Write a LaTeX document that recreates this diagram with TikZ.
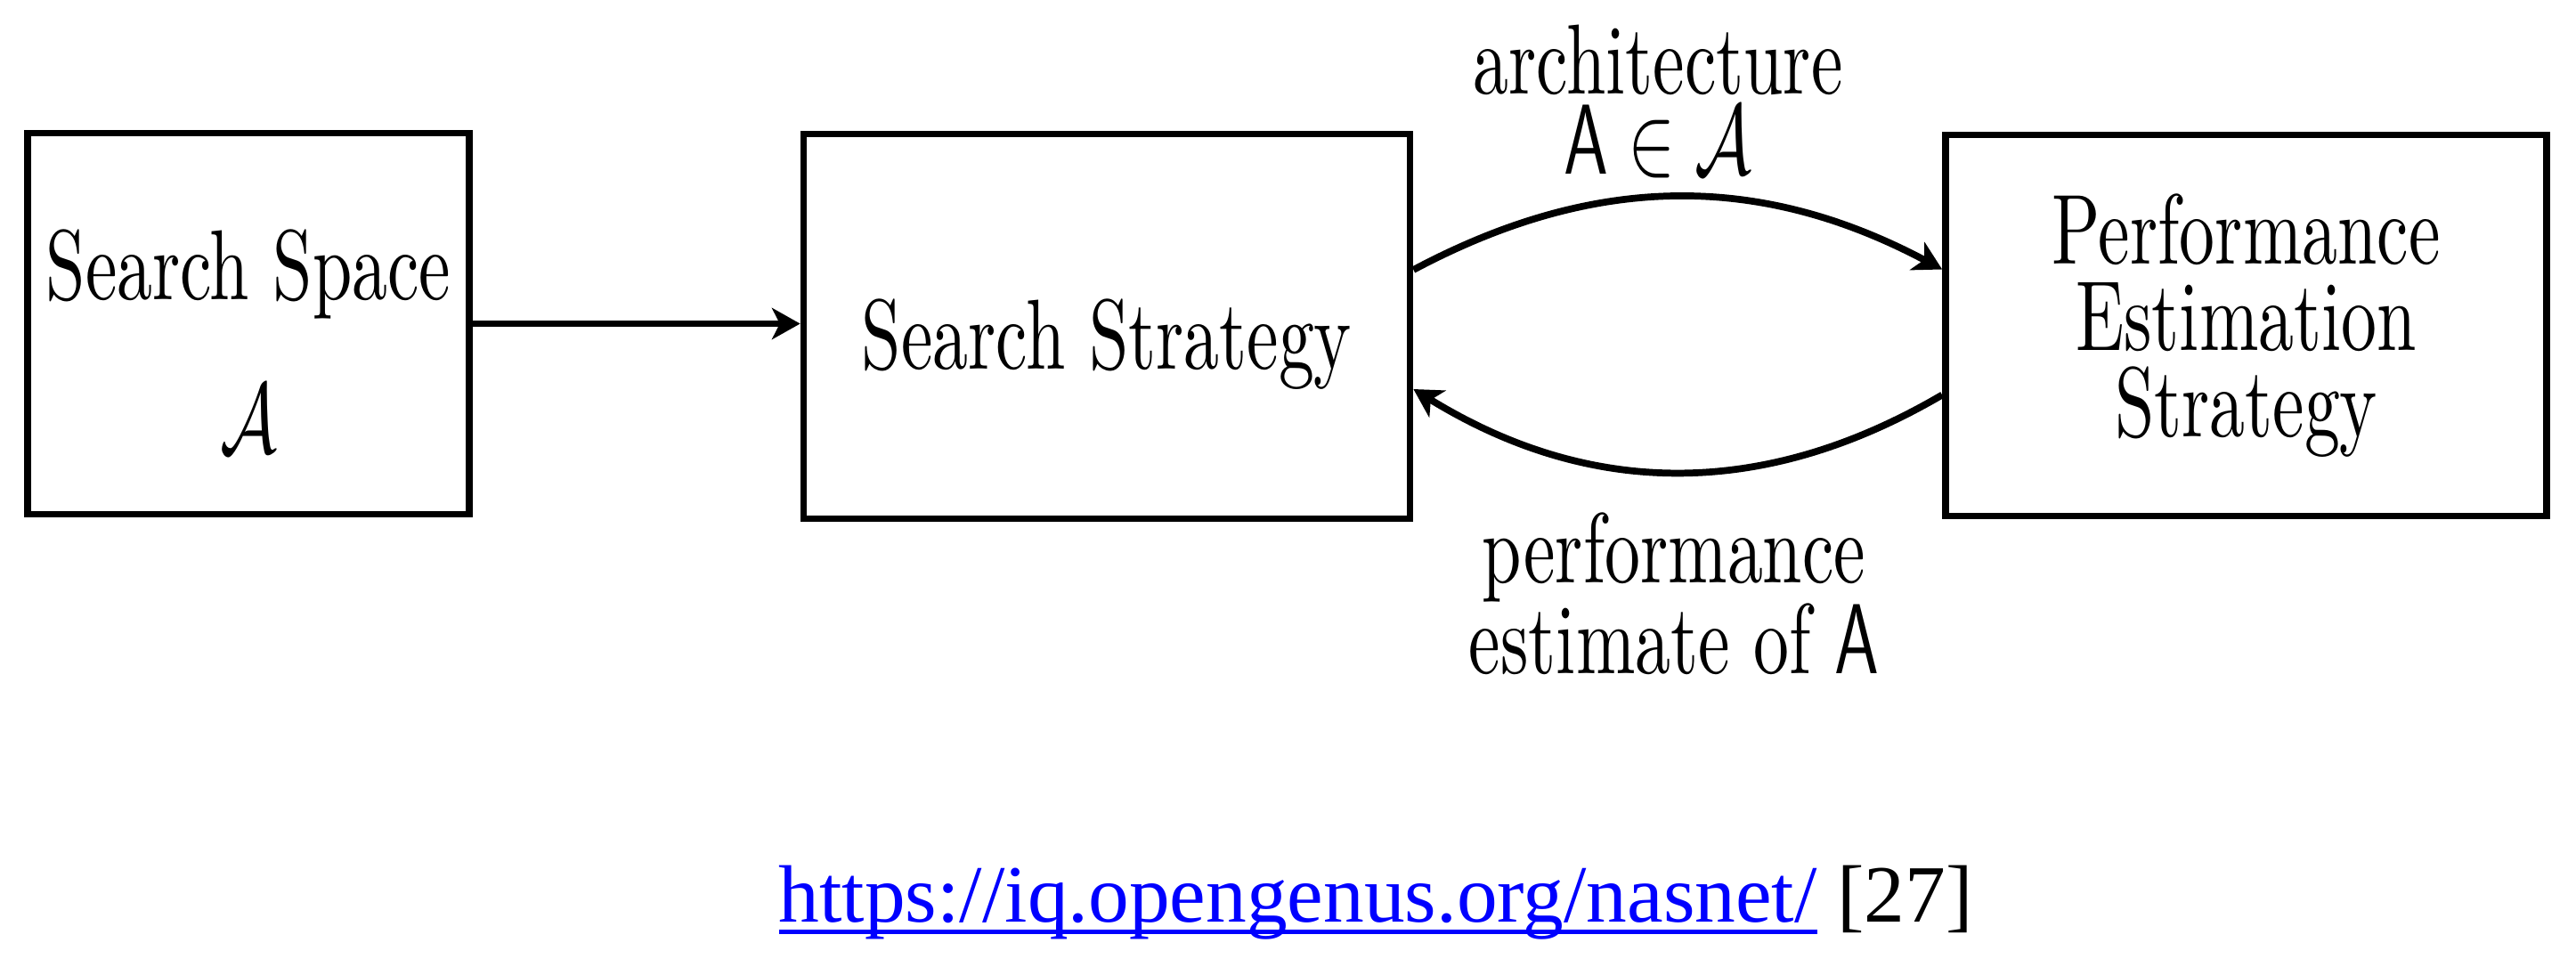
\RequirePackage{fix-cm}
\documentclass[tikz,border=0pt]{standalone}
\usepackage{graphicx}
\usepackage{fontspec}
\newfontfamily\urlfont{Liberation Serif}
\newfontfamily\lmten{lmroman10-regular.otf}
\usetikzlibrary{arrows.meta}
\newcommand{\vst}[1]{\scalebox{1}[1.4]{#1}}
\newcommand{\dfont}{\lmten\fontsize{22.7}{27.6}\selectfont}
\newsavebox{\ulsave}
\newcommand{\ulbox}[1]{\sbox{\ulsave}{#1}\rlap{\rule[-3.9pt]{\wd\ulsave}{1.4pt}}\usebox{\ulsave}}
\begin{document}
\begin{tikzpicture}[
  box/.style={draw=black, line width=2.2pt, rectangle, inner sep=0pt, align=center, font=\dfont},
  arr/.style={line width=2.2pt, -{Stealth[length=9pt,width=10pt,inset=2.5pt]}},
  lbl/.style={align=center, inner sep=0pt},
]
\fill[white] (0,0) rectangle (28.93,-10.76);
\useasboundingbox (0,0) rectangle (28.93,-10.76);

\node[box, minimum width=4.96cm, minimum height=4.28cm] (ss) at (2.79,-3.635)
  {\rule{0pt}{33.6pt}\vst{Search Space}\\[20pt]\vst{$\mathcal{A}$}};
\node[box, minimum width=6.81cm, minimum height=4.32cm] (sst) at (12.43,-3.665)
  {\rule{0pt}{33.8pt}\vst{Search Strategy}};
\node[box, minimum width=6.75cm, minimum height=4.28cm] (pes) at (25.225,-3.655)
  {\vst{Performance}\\\vst{Estimation}\\\vst{Strategy}};

\node[lbl, font=\lmten\fontsize{22.7}{25.6}\selectfont] (archlbl) at (18.62,-1.135)
  {\vst{architecture}\\\vst{$\mathsf{A}\in\mathcal{A}$}};
\node[lbl, font=\lmten\fontsize{22.7}{29}\selectfont] (perflbl) at (18.80,-6.665)
  {\vst{performance}\\\vst{estimate of $\mathsf{A}$}};

\draw[arr] (ss.east) -- (ss.east -| sst.west);
\draw[arr] ([yshift=0.635cm]sst.east) to[bend left=28] ([yshift=0.63cm]pes.west);
\draw[arr] ([yshift=-0.78cm]pes.west) to[bend left=31] ([yshift=-0.705cm]sst.east);

\node[anchor=base west, inner sep=0pt, font=\urlfont\fontsize{26}{30}\selectfont] (url) at (8.74,-10.35)
  {\textcolor{blue}{\ulbox{https://iq.opengenus.org/nasnet/}} [27]};
\end{tikzpicture}
\end{document}
